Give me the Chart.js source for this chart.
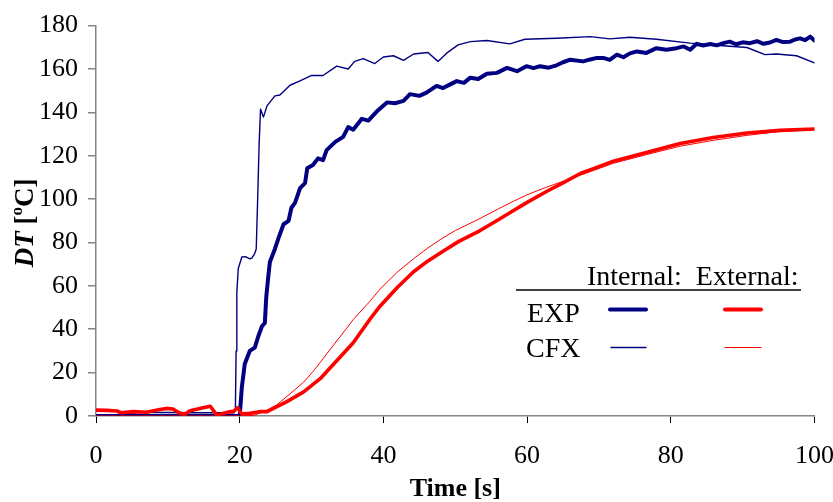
<!DOCTYPE html>
<html>
<head>
<meta charset="utf-8">
<script src="https://cdn.jsdelivr.net/npm/chart.js@4"></script>
<style>
  html, body { margin: 0; padding: 0; background: #fff; }
  canvas { display: block; }
</style>
</head>
<body>
<canvas id="grafico" width="833" height="502"></canvas>
<script>
// Internal thermocouple, measured (EXP)
const expIntT = [0, 10, 19.9, 20.0, 20.3, 20.7, 21.4, 22.1, 22.6, 23.1, 23.5, 23.7, 24.0, 24.2, 24.9, 25.4, 26.1, 26.8, 27.2, 27.7,
  28.4, 29.1, 29.4, 30.2, 30.9, 31.6, 32.1, 33.3, 34.4, 35.1, 35.8, 37.0, 37.9, 39.1, 40.5, 41.6, 42.8, 43.7, 45.0, 46.0,
  47.4, 48.3, 49.3, 50.2, 51.2, 52.1, 53.2, 54.4, 55.8, 57.2, 58.6, 59.9, 60.9, 61.8, 63.0, 64.1, 65.0, 66.0, 67.8, 68.8,
  69.7, 70.6, 71.5, 72.5, 73.4, 74.3, 75.3, 76.6, 78.0, 79.4, 80.8, 81.8, 82.7, 83.6, 84.5, 85.5, 86.4, 87.3, 88.2, 89.1,
  90.0, 91.0, 92.0, 92.9, 93.8, 94.7, 95.6, 96.6, 97.3, 98.0, 98.7, 99.4, 100];
const expIntV = [0, 0, 0, 0, 13.3, 24, 30, 31.5, 36.9, 41.4, 42.9, 55, 65, 71, 77, 82, 88.4, 90, 96, 98.3,
  105.1, 107.4, 114.2, 115.7, 118.8, 118, 122.6, 126.4, 128.7, 133.2, 132, 137, 136.2, 140.5, 144.6, 144.2, 145.3, 148.4, 147.6, 149.1,
  152.2, 151.2, 152.9, 154.4, 153.6, 156, 155.4, 157.8, 158.2, 160.5, 159, 161.3, 160.4, 161.3, 160.6, 161.7, 163.1, 164.3, 163.5, 164.4,
  165.1, 165.1, 164.2, 166.6, 165.4, 167.2, 168.1, 167.4, 169.6, 168.9, 169.6, 170.4, 168.9, 171.6, 170.8, 171.5, 170.9, 171.9, 172.6, 171.4,
  172.3, 171.9, 172.8, 171.6, 172.2, 173.4, 172.4, 172.6, 173.6, 174.1, 173.3, 174.9, 173.1];

// Internal thermocouple, simulated (CFX)
const cfxIntT = [0, 2, 4, 6, 10, 14, 19.2, 19.4, 19.5, 19.6, 19.8, 20.3, 20.8, 21.4, 21.7, 22.1, 22.3, 22.5, 22.7, 22.9,
  23.3, 23.8, 24.9, 25.6, 27.0, 28.4, 30.0, 31.6, 33.5, 35.1, 36.0, 37.2, 38.8, 40.0, 41.4, 42.8, 44.2, 46.2, 47.6, 48.8,
  50.4, 52.1, 54.4, 57.6, 59.7, 64.1, 68.8, 71.5, 74.3, 78.0, 82.7, 87.3, 90.6, 93.1, 94.7, 97.5, 100];
const cfxIntV = [0, 0, 1, 1.6, 1.6, 1.5, 1.5, 3, 30, 57, 68, 73.3, 73.5, 72.5, 72.8, 75, 77, 100, 125, 141.5,
  137.8, 143, 147.6, 148, 152.5, 154.5, 157, 157, 161.3, 160, 163.5, 164.8, 162.5, 165.5, 166.1, 164, 166.9, 167.6, 163.5, 167.3,
  171.1, 172.6, 173.1, 171.6, 173.7, 174.2, 174.9, 173.9, 174.6, 173.7, 171.9, 170.7, 169.9, 166.6, 166.9, 166.1, 162.8];

// External thermocouple, measured (EXP)
const expExtT = [0, 1.5, 2.9, 3.5, 5.2, 7.0, 8.9, 9.8, 10.7, 11.7, 12.4, 13.1, 14.9, 15.9, 16.8, 18.6, 19.1, 19.7, 20.3, 21.4,
  22.8, 23.8, 25.1, 26.5, 28.9, 31.2, 33.5, 35.8, 38.1, 39.5, 42.0, 44.2, 46.2, 48.3, 50.5, 53.4, 56.0, 58.0, 60.0, 62.7,
  65.0, 67.4, 70.0, 72.0, 76.6, 81.3, 85.9, 90.6, 95.2, 100];
const expExtV = [2.7, 2.6, 2.3, 1.5, 2.0, 1.7, 3.0, 3.5, 3.2, 1.2, 0.9, 2.4, 3.8, 4.5, 0.5, 2.0, 2.0, 3.8, 0.9, 1.2,
  2.0, 2.0, 4.2, 6.5, 11.1, 17.2, 25.5, 33.8, 44.5, 50.5, 59.5, 66.5, 71.5, 76, 80.5, 85.4, 90.5, 94.5, 98.5, 103.5,
  107.5, 111.8, 115, 117.5, 121.5, 125.6, 128.4, 130.5, 131.7, 132.3];

// External thermocouple, simulated (CFX)
const cfxExtT = [0, 10, 20, 22, 23.8, 25.1, 26.5, 28.9, 30.2, 31.2, 33.5, 34.9, 35.8, 38.1, 39.5, 42.0, 44.2, 46.2, 48.0, 50.0,
  53.4, 56.0, 58.1, 60.0, 62.7, 67.4, 72.0, 76.6, 81.3, 85.9, 90.6, 95.2, 100];
const cfxExtV = [0, 0, 0, 0.3, 2.7, 5, 8.8, 15.6, 20.5, 24.7, 34.6, 40.5, 44.5, 52.8, 58.4, 66.5, 72.5, 77.5, 81.5, 85.5,
  91, 95.5, 99, 102, 105.5, 111, 116.5, 120.5, 124.4, 127.1, 129.4, 131.2, 132];

const xTicks = [0, 20, 40, 60, 80, 100];
const yTicks = [0, 20, 40, 60, 80, 100, 120, 140, 160, 180];

const NAVY = '#000080';
const RED = '#ff0000';
const SERIF = '"Liberation Serif", "Times New Roman", serif';

const pts = (t, v) => t.map((x, i) => ({ x: x, y: v[i] }));

// axis titles and the small table-style legend inside the plot
const labelsPlugin = {
  id: 'labels',
  afterDraw(chart) {
    const ctx = chart.ctx;
    const a = chart.chartArea;
    ctx.save();
    ctx.fillStyle = '#000';
    ctx.textBaseline = 'alphabetic';

    // x title
    ctx.font = 'bold 26px ' + SERIF;
    ctx.textAlign = 'center';
    ctx.fillText('Time [s]', (a.left + a.right) / 2, 496);

    // y title: italic DT, then [°C] with a raised o
    const parts = [
      { s: 'DT', f: 'italic bold 27px ' + SERIF, dy: 0 },
      { s: ' [', f: 'bold 27px ' + SERIF, dy: 0 },
      { s: 'o', f: 'bold 17px ' + SERIF, dy: -11 },
      { s: 'C]', f: 'bold 27px ' + SERIF, dy: 0 }
    ];
    let total = 0;
    parts.forEach(p => { ctx.font = p.f; p.w = ctx.measureText(p.s).width; total += p.w; });
    ctx.translate(33, (a.top + a.bottom) / 2 + 2);
    ctx.rotate(-Math.PI / 2);
    ctx.textAlign = 'left';
    let x = -total / 2;
    parts.forEach(p => { ctx.font = p.f; ctx.fillText(p.s, x, p.dy); x += p.w; });
    ctx.setTransform(1, 0, 0, 1, 0, 0);

    // legend
    ctx.font = '28px ' + SERIF;
    ctx.textAlign = 'left';
    ctx.fillText('Internal:  External:', 587, 285);
    ctx.fillText('EXP', 527, 322);
    ctx.fillText('CFX', 526, 357);

    ctx.strokeStyle = '#000';
    ctx.lineWidth = 1.5;
    ctx.beginPath(); ctx.moveTo(516, 290); ctx.lineTo(801, 290); ctx.stroke();

    const seg = (x1, x2, y, c, w) => {
      ctx.strokeStyle = c; ctx.lineWidth = w; ctx.lineCap = 'round';
      ctx.beginPath(); ctx.moveTo(x1, y); ctx.lineTo(x2, y); ctx.stroke();
    };
    seg(610, 646, 309.5, NAVY, 4);
    seg(725, 761, 309.5, RED, 4);
    seg(611, 646, 347.5, NAVY, 1.3);
    seg(725, 761, 347.5, RED, 1);
    ctx.restore();
  }
};

const line = (label, t, v, color, width, order) => ({
  label: label,
  data: pts(t, v),
  borderColor: color,
  backgroundColor: color,
  borderWidth: width,
  pointRadius: 0,
  tension: 0,
  borderJoinStyle: 'round',
  borderCapStyle: 'round',
  order: order
});

new Chart(document.getElementById('grafico'), {
  type: 'line',
  data: {
    datasets: [
      line('Internal CFX', cfxIntT, cfxIntV, NAVY, 1.4, 4),
      line('Internal EXP', expIntT, expIntV, NAVY, 4, 3),
      line('External CFX', cfxExtT, cfxExtV, RED, 1, 2),
      line('External EXP', expExtT, expExtV, RED, 3.6, 1)
    ]
  },
  options: {
    responsive: false,
    animation: false,
    layout: { padding: { top: 21, right: 0, left: 0, bottom: 0 } },
    plugins: { legend: { display: false }, tooltip: { enabled: false } },
    scales: {
      x: {
        type: 'linear',
        min: 0, max: 100,
        afterBuildTicks: s => { s.ticks = xTicks.map(v => ({ value: v })); },
        afterFit: s => { s.height = 86; s.paddingLeft = 0; s.paddingRight = 18.5; },
        grid: { drawOnChartArea: false, drawTicks: true, tickLength: 7, color: '#000', lineWidth: 1 },
        border: { display: true, color: '#858585', width: 1.5 },
        ticks: { color: '#000', padding: 18, maxRotation: 0, font: { family: SERIF, size: 26 } }
      },
      y: {
        type: 'linear',
        min: 0, max: 180,
        afterBuildTicks: s => { s.ticks = yTicks.map(v => ({ value: v })); },
        afterFit: s => { s.width = 96; },
        grid: { drawOnChartArea: false, drawTicks: true, tickLength: 8, color: '#858585', lineWidth: 1.5 },
        border: { display: true, color: '#858585', width: 1.5 },
        ticks: { color: '#000', padding: 10, font: { family: SERIF, size: 26 } }
      }
    }
  },
  plugins: [labelsPlugin]
});
</script>
</body>
</html>
